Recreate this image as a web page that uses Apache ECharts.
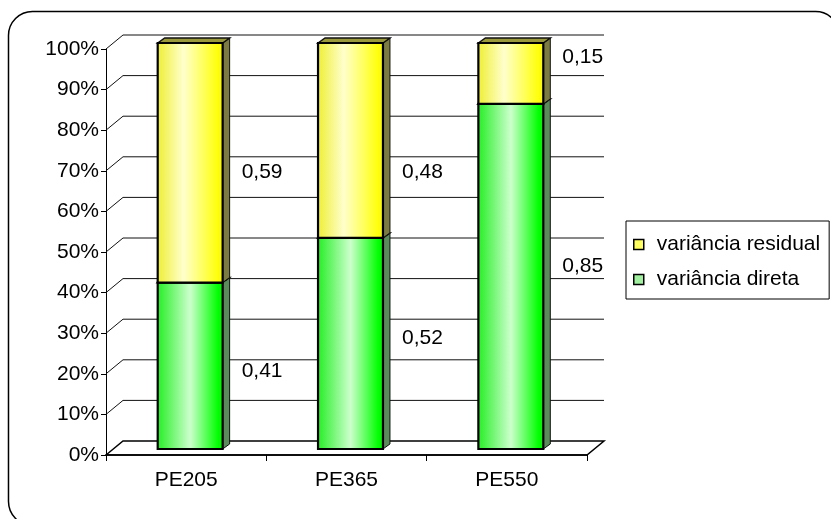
<!DOCTYPE html>
<html>
<head>
<meta charset="utf-8">
<script src="https://cdn.jsdelivr.net/npm/echarts@6/dist/echarts.min.js"></script>
<style>
  html, body { margin: 0; padding: 0; background: #fff; }
  #chart { width: 831px; height: 519px; }
</style>
</head>
<body>
<div id="chart"></div>
<script>
// Share of each variance component per material
const categories = ['PE205', 'PE365', 'PE550'];
const varianciaDireta = [0.41, 0.52, 0.85];
const varianciaResidual = [0.59, 0.48, 0.15];
const yTicks = [0, 0.1, 0.2, 0.3, 0.4, 0.5, 0.6, 0.7, 0.8, 0.9, 1.0];
const nameDireta = 'variância direta';
const nameResidual = 'variância residual';

// Pseudo-3D look: back wall offset, bar plane offset, bar depth
const WALL_DX = 17, WALL_DY = -14;
const BAR_DX = 4, BAR_DY = -6;
const SIDE_DX = 7, SIDE_DY = -5;
const BAR_RATIO = 0.405;
const LABEL_GAP = 19;
// vertical nudges of the value labels (px from segment middle)
const labelNudgeDireta = [5, -5, -10];
const labelNudgeResidual = [9, 32, -16];

const FONT = '"Liberation Sans", Arial, sans-serif';
const FS = 21;

const yellowFace = new echarts.graphic.LinearGradient(0, 0, 1, 0, [
  { offset: 0, color: '#eeee30' },
  { offset: 0.4, color: '#ffffcc' },
  { offset: 0.9, color: '#ffff10' },
  { offset: 1, color: '#f4f400' }
]);
const greenFace = new echarts.graphic.LinearGradient(0, 0, 1, 0, [
  { offset: 0, color: '#22ee22' },
  { offset: 0.5, color: '#ccffcc' },
  { offset: 0.92, color: '#00ff00' },
  { offset: 1, color: '#00e800' }
]);

function fmt(v) {
  return v.toFixed(2).replace('.', ',');
}

function wallItem(params, api) {
  const cs = params.coordSys;
  const v = yTicks[params.dataIndex];
  const y = api.coord([0, v])[1];
  const x0 = cs.x, x1 = cs.x + cs.width;
  if (v === 0) {
    return {
      type: 'polygon',
      shape: { points: [[x0, y], [x0 + WALL_DX, y + WALL_DY], [x1 + WALL_DX, y + WALL_DY], [x1, y]] },
      style: { fill: 'none', stroke: '#000', lineWidth: 1.5 }
    };
  }
  return {
    type: 'polyline',
    shape: { points: [[x0, y], [x0 + WALL_DX, y + WALL_DY], [x1 + WALL_DX, y + WALL_DY]] },
    style: { fill: 'none', stroke: '#111', lineWidth: 1 }
  };
}

function makeBarRenderer(face, sideColor, topColor, nudges) {
  return function (params, api) {
    const cat = api.value(0), base = api.value(1), val = api.value(2);
    const pBase = api.coord([cat, base]);
    const pTop = api.coord([cat, base + val]);
    const band = api.size([1, 0])[0];
    const w = band * BAR_RATIO;
    const cx = pBase[0] + BAR_DX;
    const yb = pBase[1] + BAR_DY;
    const yt = pTop[1] + BAR_DY;
    const x0 = cx - w / 2, x1 = cx + w / 2;
    return {
      type: 'group',
      children: [
        {
          type: 'polygon',
          shape: { points: [[x1, yb], [x1 + SIDE_DX, yb + SIDE_DY], [x1 + SIDE_DX, yt + SIDE_DY], [x1, yt]] },
          style: { fill: sideColor, stroke: '#111', lineWidth: 1 }
        },
        {
          type: 'polygon',
          shape: { points: [[x0, yt], [x0 + SIDE_DX, yt + SIDE_DY], [x1 + SIDE_DX, yt + SIDE_DY], [x1, yt]] },
          style: { fill: topColor, stroke: '#111', lineWidth: 1.5 }
        },
        {
          type: 'rect',
          shape: { x: x0, y: yt, width: w, height: yb - yt },
          style: { fill: face, stroke: '#000', lineWidth: 2.2 }
        },
        {
          type: 'text',
          style: {
            text: fmt(val),
            x: x1 + LABEL_GAP,
            y: (yt + yb) / 2 + nudges[params.dataIndex],
            align: 'left',
            verticalAlign: 'middle',
            fill: '#000',
            fontSize: FS,
            fontFamily: FONT
          }
        }
      ]
    };
  };
}

const chart = echarts.init(document.getElementById('chart'), null, { renderer: 'canvas' });

chart.setOption({
  animation: false,
  backgroundColor: '#fff',
  textStyle: { fontFamily: FONT, color: '#000' },
  graphic: [{
    type: 'rect',
    silent: true,
    shape: { x: 8.5, y: 11.5, width: 831, height: 514, r: 24 },
    style: { fill: 'none', stroke: '#000', lineWidth: 1.5 }
  }],
  grid: { left: 106, right: 244, top: 49, bottom: 64, outerBoundsMode: 'none' },
  legend: {
    orient: 'vertical',
    left: 626,
    top: 221,
    padding: [13, 9, 9, 7],
    itemGap: 14,
    itemWidth: 10,
    itemHeight: 10,
    borderColor: '#000',
    borderWidth: 1,
    backgroundColor: '#fff',
    textStyle: { fontSize: FS, color: '#000', fontFamily: FONT, padding: [0, 0, 0, 8] },
    data: [
      { name: nameResidual, icon: 'rect', itemStyle: { color: '#ffff60', borderColor: '#000', borderWidth: 1.5 } },
      { name: nameDireta, icon: 'rect', itemStyle: { color: '#a0f0a0', borderColor: '#000', borderWidth: 1.5 } }
    ]
  },
  xAxis: {
    type: 'category',
    data: categories,
    axisLine: { show: true, lineStyle: { color: '#000', width: 1.5 } },
    axisTick: { show: true, length: 6, alignWithLabel: false, lineStyle: { color: '#000' } },
    axisLabel: { fontSize: FS, color: '#000', margin: 15, fontFamily: FONT },
    splitLine: { show: false }
  },
  yAxis: {
    type: 'value',
    min: 0,
    max: 1,
    interval: 0.1,
    axisLine: { show: true, lineStyle: { color: '#000', width: 1 } },
    axisTick: { show: true, length: 5, lineStyle: { color: '#000' } },
    axisLabel: {
      fontSize: FS, color: '#000', margin: 7, fontFamily: FONT,
      formatter: v => Math.round(v * 100) + '%'
    },
    splitLine: { show: false }
  },
  series: [
    {
      name: 'grade',
      type: 'custom',
      silent: true,
      clip: false,
      z: 1,
      renderItem: wallItem,
      data: yTicks.map(v => [0, v])
    },
    {
      name: nameDireta,
      type: 'custom',
      clip: false,
      z: 2,
      itemStyle: { color: '#a0f0a0' },
      renderItem: makeBarRenderer(greenFace, '#5b8a5b', '#3f7f3f', labelNudgeDireta),
      encode: { x: 0, y: 2 },
      data: categories.map((c, i) => [i, 0, varianciaDireta[i]])
    },
    {
      name: nameResidual,
      type: 'custom',
      clip: false,
      z: 3,
      itemStyle: { color: '#ffff60' },
      renderItem: makeBarRenderer(yellowFace, '#7c7c42', '#9a9a3c', labelNudgeResidual),
      encode: { x: 0, y: 2 },
      data: categories.map((c, i) => [i, varianciaDireta[i], varianciaResidual[i]])
    }
  ]
});
</script>
</body>
</html>
